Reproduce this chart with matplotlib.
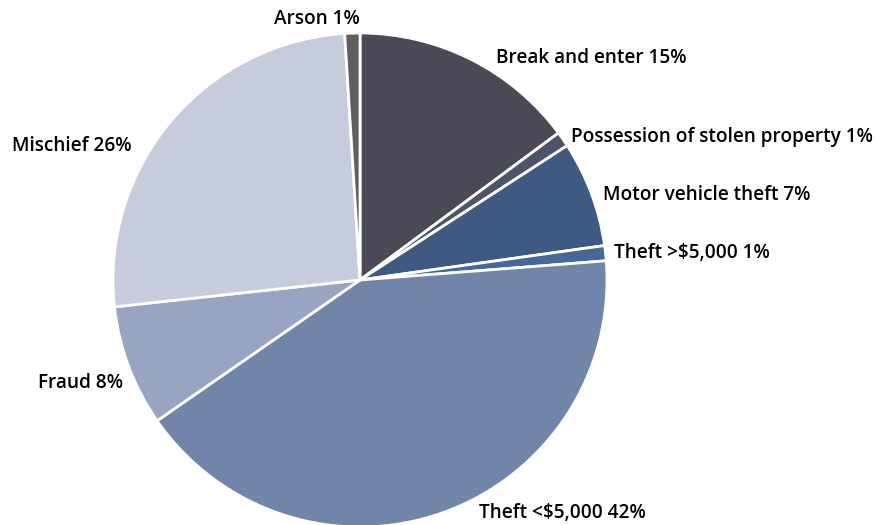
import matplotlib.pyplot as plt

categories = ["Break and enter", "Possession of stolen property", "Motor vehicle theft",
              "Theft >$5,000", "Theft <$5,000", "Fraud", "Mischief", "Arson"]
shares = [15, 1, 7, 1, 42, 8, 26, 1]
colors = ["#4a4a56", "#4b5468", "#3e5a82", "#46679a", "#7185ab", "#97a5c2", "#c7ccdd", "#5f5f61"]

# label anchor points (x, y, horizontal alignment) in pie units
label_layout = [
    (0.55, 0.90, "left"),
    (0.855, 0.578, "left"),
    (0.985, 0.343, "left"),
    (1.03, 0.108, "left"),
    (0.48, -0.945, "left"),
    (-0.96, -0.415, "right"),
    (-0.925, 0.542, "right"),
    (0.0, 1.055, "right"),
]

fig = plt.figure(figsize=(8.79, 5.25), dpi=100)
ax = fig.add_axes([(360 - 247) / 879, -2 / 525, 494 / 879, 494 / 525])
ax.pie(shares, colors=colors, startangle=90, counterclock=False, radius=1,
       wedgeprops=dict(edgecolor="white", linewidth=2))
ax.set_xlim(-1, 1)
ax.set_ylim(-1, 1)
ax.set_aspect("equal")
ax.axis("off")

for name, val, (x, y, ha) in zip(categories, shares, label_layout):
    ax.text(x, y, f"{name} {val}%", ha=ha, va="center", fontsize=13.7,
            fontfamily="Open Sans", fontweight="semibold", color="#000000",
            clip_on=False)

fig.savefig("out.png", dpi=100)
